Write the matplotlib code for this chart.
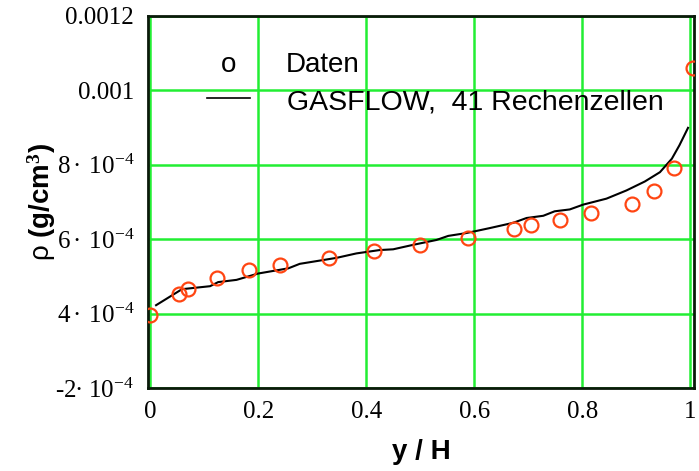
import numpy as np
import matplotlib
matplotlib.use('Agg')
import matplotlib.pyplot as plt

plt.rcParams['mathtext.fontset'] = 'custom'
plt.rcParams['mathtext.rm'] = 'Liberation Serif'
plt.rcParams['mathtext.it'] = 'Liberation Serif:italic'
plt.rcParams['mathtext.bf'] = 'Liberation Serif:bold'
plt.rcParams['mathtext.sf'] = 'Liberation Sans'

# measured points ("Daten")
x_data = [0.0, 0.053, 0.070, 0.124, 0.183, 0.240, 0.331, 0.414, 0.499, 0.589,
          0.674, 0.706, 0.759, 0.817, 0.893, 0.933, 0.970, 1.005]
rho_data = [3.98e-4, 4.52e-4, 4.67e-4, 4.96e-4, 5.17e-4, 5.30e-4, 5.50e-4, 5.68e-4,
            5.85e-4, 6.04e-4, 6.27e-4, 6.37e-4, 6.53e-4, 6.71e-4, 6.95e-4, 7.29e-4,
            7.92e-4, 1.06e-3]

# GASFLOW, 41 cells
x_sim = [0.011, 0.059, 0.111, 0.126, 0.160, 0.200, 0.256, 0.277, 0.345, 0.382,
         0.425, 0.450, 0.487, 0.530, 0.552, 0.583, 0.600, 0.629, 0.672, 0.697,
         0.728, 0.749, 0.777, 0.802, 0.845, 0.882, 0.916, 0.944, 0.966, 0.980, 0.996]
rho_sim = [4.23e-4, 4.66e-4, 4.74e-4, 4.85e-4, 4.91e-4, 5.08e-4, 5.22e-4, 5.34e-4,
           5.50e-4, 5.62e-4, 5.71e-4, 5.73e-4, 5.85e-4, 5.98e-4, 6.09e-4, 6.16e-4,
           6.21e-4, 6.30e-4, 6.44e-4, 6.57e-4, 6.63e-4, 6.75e-4, 6.80e-4, 6.93e-4,
           7.09e-4, 7.31e-4, 7.55e-4, 7.80e-4, 8.16e-4, 8.52e-4, 8.99e-4]

xticks = [0, 0.2, 0.4, 0.6, 0.8, 1.0]
xtick_labels = ['0', '0.2', '0.4', '0.6', '0.8', '1']
yticks = [2e-4, 4e-4, 6e-4, 8e-4, 1e-3, 1.2e-3]
ytick_labels = ['-2' + r'$\bullet\ 10^{-4}$', r'$4\bullet\ 10^{-4}$', r'$6\bullet\ 10^{-4}$',
                r'$8\bullet\ 10^{-4}$', '0.001', '0.0012']

fig = plt.figure(figsize=(6.99, 4.71), dpi=100)
ax = fig.add_axes([0.2117, 0.1756, 0.7811, 0.7911])

green = '#22ee33'
ax.set_xticks(xticks)
ax.set_xticklabels(xtick_labels, fontfamily='Liberation Serif', fontsize=18)
ax.set_yticks(yticks)
ax.set_yticklabels(ytick_labels, fontfamily='Liberation Serif', fontsize=18)
ax.tick_params(axis='y', length=0, pad=10)
ax.tick_params(axis='x', length=0, pad=9)
ax.grid(True, color=green, lw=1.8)
ax.set_axisbelow(True)

ax.plot(x_sim, rho_sim, color='black', lw=1.5, zorder=3)
ax.plot(x_data, rho_data, 'o', mfc='none', mec='#ff4512', ms=10, mew=1.6, zorder=4)

ax.set_xlim(-0.004, 1.007)
ax.set_ylim(2e-4, 1.2e-3)
for s in ax.spines.values():
    s.set_color('#0a1a0a')
    s.set_linewidth(2)

ax.set_xlabel('y / H', fontfamily='Liberation Sans', fontweight='bold', fontsize=20, labelpad=12)
ax.set_ylabel(r'$\mathsf{\rho}$ (g/cm$^{\mathbf{3}}$)', fontfamily='Liberation Sans',
              fontweight='bold', fontsize=20, labelpad=-2)

# legend drawn by hand like the original
ax.text(0.148, 0.868, 'o', transform=ax.transAxes, ha='center', va='center',
        fontfamily='Liberation Sans', fontsize=20, zorder=5)
ax.text(0.253, 0.868, 'Daten', transform=ax.transAxes, ha='left', va='center',
        fontfamily='Liberation Sans', fontsize=20, zorder=5)
ax.plot([0.108, 0.187], [0.779, 0.779], transform=ax.transAxes, color='black', lw=1.2)
ax.text(0.255, 0.768, 'GASFLOW,  41 Rechenzellen', transform=ax.transAxes, ha='left',
        va='center', fontfamily='Liberation Sans', fontsize=20.5, zorder=5)

fig.savefig('out.png', dpi=100)
